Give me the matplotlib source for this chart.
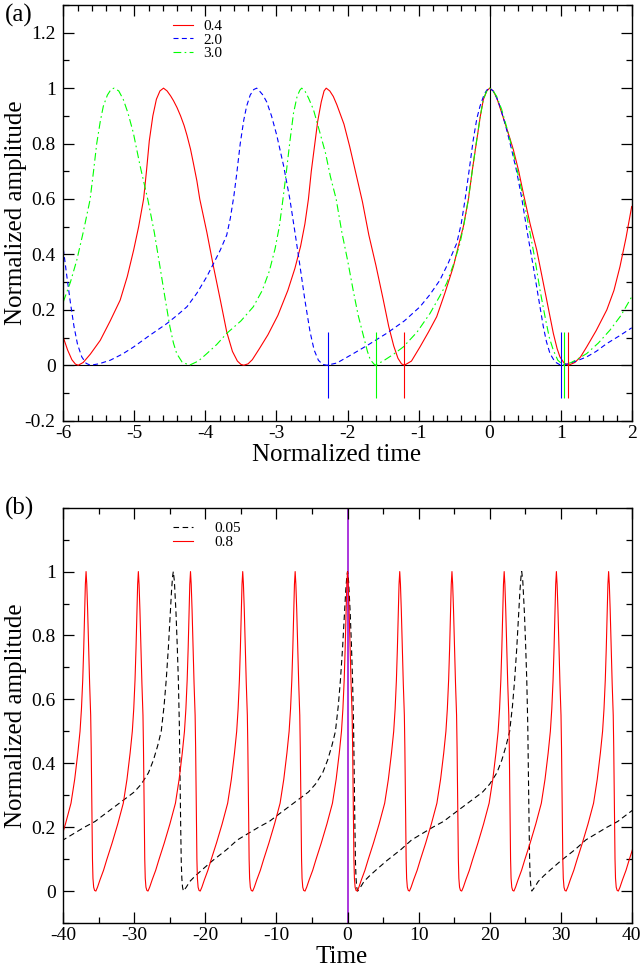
import numpy as np
import matplotlib
matplotlib.use('Agg')
import matplotlib.pyplot as plt
from matplotlib.ticker import MultipleLocator

plt.rcParams['font.family'] = ['Liberation Serif', 'DejaVu Serif']
plt.rcParams['axes.unicode_minus'] = False

# ---- panel (a): normalized pulses ----
a_red_x = [-6.00, -5.94, -5.88, -5.83, -5.79, -5.72, -5.62, -5.48, -5.34, -5.20,
           -5.10, -5.01, -4.94, -4.87, -4.83, -4.79, -4.74, -4.69, -4.64, -4.59,
           -4.54, -4.49, -4.45, -4.40, -4.35, -4.30, -4.26, -4.21, -4.17, -4.12,
           -4.08, -3.98, -3.89, -3.79, -3.70, -3.62, -3.55, -3.50, -3.46,
           -3.40, -3.34, -3.24, -3.12, -2.98, -2.84, -2.74, -2.66, -2.60, -2.55,
           -2.51, -2.46, -2.42, -2.37, -2.33, -2.30, -2.25, -2.20, -2.15, -2.10,
           -2.05, -2.01, -1.97, -1.88, -1.79, -1.70, -1.60, -1.50, -1.42, -1.35,
           -1.29, -1.24, -1.20,
           -1.10, -0.98, -0.86, -0.745, -0.63, -0.51, -0.44, -0.37, -0.30, -0.24,
           -0.18, -0.13, -0.088, -0.04, 0.0, 0.05, 0.10, 0.146, 0.19, 0.24,
           0.29, 0.334, 0.41, 0.474, 0.57, 0.663, 0.73, 0.804, 0.897, 0.95,
           0.99, 1.05, 1.11,
           1.20, 1.28, 1.366, 1.50, 1.65, 1.75, 1.835, 1.92, 2.0]
a_red_y = [0.10, 0.055, 0.02, 0.004, 0.0, 0.01, 0.04, 0.09, 0.16, 0.235,
           0.32, 0.416, 0.50, 0.60, 0.70, 0.81, 0.90, 0.96, 0.99, 1.0,
           0.99, 0.972, 0.955, 0.93, 0.90, 0.865, 0.83, 0.78, 0.73, 0.665,
           0.60, 0.48, 0.36, 0.235, 0.12, 0.05, 0.015, 0.003, 0.0,
           0.005, 0.02, 0.06, 0.11, 0.18, 0.27, 0.35, 0.43, 0.51, 0.60,
           0.70, 0.80, 0.88, 0.95, 0.99, 1.0, 0.99, 0.97, 0.94, 0.905,
           0.87, 0.83, 0.79, 0.69, 0.59, 0.47, 0.36, 0.24, 0.14, 0.07,
           0.025, 0.005, 0.0,
           0.015, 0.066, 0.12, 0.175, 0.26, 0.356, 0.43, 0.50, 0.597, 0.71,
           0.814, 0.90, 0.959, 0.99, 1.0, 0.99, 0.965, 0.93, 0.895, 0.855,
           0.815, 0.778, 0.70, 0.621, 0.51, 0.416, 0.33, 0.235, 0.115, 0.06,
           0.03, 0.007, 0.0,
           0.01, 0.03, 0.066, 0.125, 0.20, 0.27, 0.356, 0.46, 0.573]

a_blue_x = [-6.00, -5.95, -5.90, -5.85, -5.80, -5.74, -5.68, -5.62, -5.50, -5.34,
            -5.17, -5.01, -4.80, -4.545, -4.40, -4.26, -4.12, -3.98, -3.88, -3.79,
            -3.70, -3.65, -3.60, -3.56, -3.51, -3.46, -3.42, -3.37, -3.32, -3.278,
            -3.24, -3.19, -3.137, -3.07, -2.996, -2.90, -2.81, -2.74, -2.668, -2.60,
            -2.527, -2.47, -2.41, -2.35, -2.29,
            -2.15, -1.918, -1.70, -1.45, -1.20, -0.98, -0.84, -0.70, -0.58, -0.463,
            -0.40, -0.346, -0.29, -0.23, -0.18, -0.135, -0.08, -0.04, 0.0,
            0.05, 0.10, 0.146, 0.23, 0.31, 0.38, 0.451, 0.53, 0.615, 0.69,
            0.756, 0.80, 0.85, 0.92, 1.0,
            1.10, 1.22, 1.366, 1.50, 1.648, 1.82, 2.0]
a_blue_y = [0.42, 0.32, 0.225, 0.14, 0.075, 0.03, 0.007, 0.0, 0.005, 0.018,
            0.04, 0.066, 0.105, 0.15, 0.18, 0.211, 0.26, 0.32, 0.37, 0.416,
            0.47, 0.53, 0.61, 0.69, 0.80, 0.885, 0.935, 0.975, 0.995, 1.0,
            0.99, 0.975, 0.95, 0.90, 0.83, 0.72, 0.597, 0.48, 0.356, 0.235,
            0.12, 0.055, 0.018, 0.003, 0.0,
            0.008, 0.042, 0.075, 0.115, 0.16, 0.211, 0.255, 0.307, 0.37, 0.44,
            0.51, 0.597, 0.70, 0.814, 0.89, 0.935, 0.975, 0.993, 1.0,
            0.99, 0.965, 0.935, 0.86, 0.778, 0.70, 0.605, 0.48, 0.356, 0.24,
            0.139, 0.085, 0.042, 0.012, 0.0,
            0.005, 0.015, 0.03, 0.05, 0.078, 0.105, 0.135]

a_green_x = [-6.00, -5.90, -5.81, -5.72, -5.624, -5.575, -5.53, -5.48, -5.437, -5.38,
             -5.33, -5.287,
             -5.22, -5.156, -5.09, -5.015, -4.92, -4.81, -4.72, -4.64, -4.57, -4.50,
             -4.45, -4.404, -4.33, -4.226,
             -4.10, -3.98, -3.84, -3.70, -3.50, -3.326, -3.20, -3.10, -3.02, -2.96,
             -2.91, -2.86, -2.81, -2.76, -2.71, -2.67, -2.645,
             -2.60, -2.55, -2.48, -2.40, -2.31, -2.24, -2.16, -2.08, -2.00, -1.92,
             -1.85, -1.78, -1.72, -1.68, -1.613,
             -1.50, -1.35, -1.215, -1.02, -0.839, -0.70, -0.604, -0.50, -0.417, -0.36,
             -0.30, -0.24, -0.181, -0.13, -0.088, -0.04, 0.0,
             0.05, 0.10, 0.17, 0.25, 0.334, 0.40, 0.474, 0.56, 0.64, 0.71,
             0.78, 0.84, 0.897, 0.96, 1.04,
             1.15, 1.25, 1.366, 1.53, 1.695, 1.85, 2.0]
a_green_y = [0.229, 0.30, 0.38, 0.48, 0.597, 0.70, 0.80, 0.88, 0.935, 0.975,
             0.995, 1.0,
             0.99, 0.959, 0.91, 0.839, 0.72, 0.597, 0.48, 0.356, 0.245, 0.139,
             0.08, 0.042, 0.012, 0.0,
             0.015, 0.042, 0.075, 0.115, 0.16, 0.211, 0.27, 0.34, 0.42, 0.50,
             0.597, 0.70, 0.81, 0.91, 0.97, 0.993, 1.0,
             0.99, 0.965, 0.923, 0.85, 0.766, 0.68, 0.60, 0.48, 0.38, 0.27,
             0.18, 0.11, 0.05, 0.02, 0.0,
             0.015, 0.04, 0.066, 0.12, 0.187, 0.25, 0.296, 0.37, 0.44, 0.51,
             0.597, 0.71, 0.814, 0.90, 0.96, 0.99, 1.0,
             0.99, 0.97, 0.923, 0.85, 0.766, 0.69, 0.605, 0.49, 0.38, 0.27,
             0.175, 0.10, 0.054, 0.018, 0.0,
             0.01, 0.024, 0.042, 0.08, 0.127, 0.18, 0.247]

# short vertical markers at the minima
a_mark_x = [-2.28, -1.60, -1.20, 1.00, 1.04, 1.11]
a_mark_c = ['#0000ff', '#00ff00', '#ff0000', '#0000ff', '#00ff00', '#ff0000']
a_mark_h = 0.12

a_xticklabels = ['-6', '-5', '-4', '-3', '-2', '-1', '0', '1', '2']
a_yticklabels = ['-0.2', '0', '0.2', '0.4', '0.6', '0.8', '1', '1.2']

b_red_dx = [-5.98, -5.75, -5.40, -4.90, -4.45, -3.70, -2.90, -2.12, -1.60, -1.16,
            -0.85, -0.65, -0.47, -0.33, -0.20, -0.10, 0.00, 0.10, 0.22, 0.35,
            0.50, 0.65, 0.72, 0.78, 0.84, 0.90, 0.97, 1.07, 1.20, 1.36]
b_red_y = [0.0, 0.012, 0.035, 0.065, 0.098, 0.15, 0.21, 0.275, 0.35, 0.432,
           0.50, 0.57, 0.66, 0.76, 0.88, 0.96, 1.0, 0.96, 0.88, 0.77,
           0.65, 0.55, 0.45, 0.33, 0.20, 0.10, 0.04, 0.012, 0.002, 0.0]
b_red_peaks = [-36.80, -29.44, -22.10, -14.75, -7.37, 0.00, 7.35, 14.70,
               22.05, 29.40, 36.75, 44.10]

b_blk_dx = [-23.10, -22.70, -22.20, -21.40, -20.50, -19.00, -17.00, -15.50, -14.00, -12.50,
            -11.00, -10.00, -8.50, -7.00, -5.50, -4.50, -3.50, -2.80, -2.20, -1.70,
            -1.30, -1.00, -0.70, -0.45, -0.25, -0.10, 0.00, 0.15, 0.38, 0.55,
            0.71, 0.85, 0.95, 1.04, 1.12, 1.20, 1.30, 1.42]
b_blk_y = [0.0, 0.012, 0.03, 0.048, 0.066, 0.095, 0.13, 0.16, 0.18, 0.20,
           0.218, 0.235, 0.26, 0.285, 0.31, 0.335, 0.37, 0.41, 0.455, 0.50,
           0.58, 0.66, 0.76, 0.86, 0.94, 0.985, 1.0, 0.97, 0.87, 0.77,
           0.66, 0.52, 0.35, 0.20, 0.09, 0.04, 0.012, 0.0]
b_blk_peaks = [-24.52, 0.00, 24.52, 49.04]

b_xticklabels = ['-40', '-30', '-20', '-10', '0', '10', '20', '30', '40']
b_yticklabels = ['0', '0.2', '0.4', '0.6', '0.8', '1']


def series(peaks, dx, yy):
    xs = np.concatenate([p + np.array(dx) for p in peaks])
    ys = np.tile(yy, len(peaks))
    return xs, ys


def frame(ax):
    for s in ax.spines.values():
        s.set_linewidth(1.0)
    ax.tick_params(which='both', direction='in', top=True, right=True,
                   labelsize=14, width=0.9)
    ax.tick_params(axis='x', pad=3)
    ax.tick_params(axis='y', pad=5.5)
    ax.tick_params(which='major', length=7.7)
    ax.tick_params(which='minor', length=4.0)


fig = plt.figure(figsize=(6.41, 9.67), dpi=100)

# panel (a)
ax = fig.add_axes([0.0988, 0.5650, 0.8867, 0.4298])
ax.axhline(0, color='black', lw=0.8, zorder=1)
ax.axvline(0, color='black', lw=0.8, zorder=1)
ax.plot(a_red_x, a_red_y, color='#ff0000', lw=0.8, label='0.4')
ax.plot(a_blue_x, a_blue_y, color='#0000ff', lw=0.8, dashes=(4.5, 3), label='2.0')
ax.plot(a_green_x, a_green_y, color='#00ff00', lw=0.8,
        dashes=(7, 3, 1.5, 3), label='3.0')
ax.vlines(a_mark_x, -a_mark_h, a_mark_h, colors=a_mark_c, lw=0.8)
ax.set_xlim(-6, 2)
ax.set_ylim(-0.2, 1.3)
ax.set_xticks(np.arange(-6, 2.5, 1), a_xticklabels)
ax.xaxis.set_minor_locator(MultipleLocator(0.2))
ax.set_yticks(np.arange(-0.2, 1.25, 0.2), a_yticklabels)
ax.yaxis.set_minor_locator(MultipleLocator(0.1))
frame(ax)
ax.set_xlabel('Normalized time', fontsize=18)
ax.xaxis.set_label_coords(0.48, -0.055)
ax.set_ylabel('Normalized amplitude', fontsize=18)
ax.yaxis.set_label_coords(-0.064, 0.5)
ax.legend(loc='upper left', bbox_to_anchor=(0.1935, 0.966), frameon=False,
          fontsize=11, handlelength=1.3, handletextpad=0.65,
          labelspacing=0.0, borderpad=0, borderaxespad=0)

# panel (b)
bx = fig.add_axes([0.0988, 0.0455, 0.8867, 0.4295])
bx.axvline(0, color='#9400d3', lw=1.1, zorder=1)
rx, ry = series(b_red_peaks, b_red_dx, b_red_y)
kx, ky = series(b_blk_peaks, b_blk_dx, b_blk_y)
bx.plot(kx, ky, color='black', lw=0.8, dashes=(5, 3.2), label='0.05')
bx.plot(rx, ry, color='#ff0000', lw=0.8, label='0.8')
bx.set_xlim(-40, 40)
bx.set_ylim(-0.1, 1.2)
bx.set_xticks(np.arange(-40, 41, 10), b_xticklabels)
bx.xaxis.set_minor_locator(MultipleLocator(5))
bx.set_yticks(np.arange(0, 1.05, 0.2), b_yticklabels)
bx.yaxis.set_minor_locator(MultipleLocator(0.1))
frame(bx)
bx.set_xlabel('Time', fontsize=18)
bx.xaxis.set_label_coords(0.49, -0.055)
bx.set_ylabel('Normalized amplitude', fontsize=18)
bx.yaxis.set_label_coords(-0.064, 0.5)
bx.legend(loc='upper left', bbox_to_anchor=(0.1935, 0.966), frameon=False,
          fontsize=11, handlelength=1.3, handletextpad=1.4,
          labelspacing=0.0, borderpad=0, borderaxespad=0)

fig.text(0.008, 0.9845, '(a)', fontsize=18, va='center', ha='left')
fig.text(0.008, 0.4747, '(b)', fontsize=18, va='center', ha='left')

fig.savefig('out.png', dpi=100)
